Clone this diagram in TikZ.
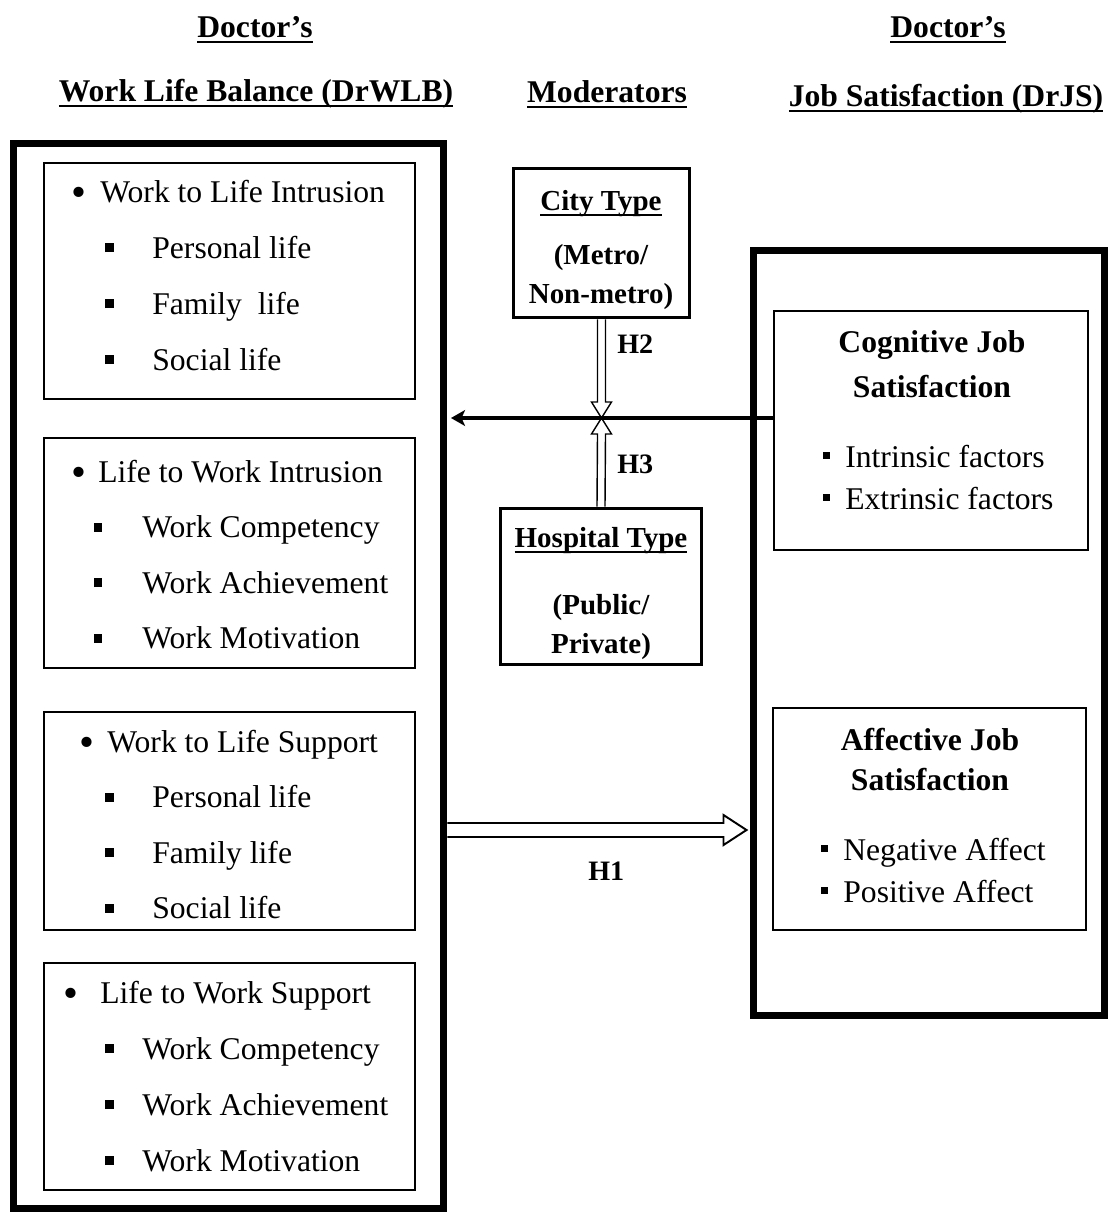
\documentclass[tikz,border=0pt]{standalone}
\usepackage{fontspec}
\setmainfont{Liberation Serif}
\usepackage{tikz}
\usetikzlibrary{arrows.meta,calc}

\newcommand{\bigsq}{\rule[3.4pt]{5pt}{5pt}}
\newcommand{\smallsq}{\rule[4.6pt]{4.2pt}{4.2pt}}
\newcommand{\bigdot}{\raisebox{-2.4pt}{\scalebox{1.35}{\textbullet}}}
\newcommand{\thickul}[1]{\setbox0=\hbox{#1}\rlap{\vrule height -2.4pt depth 3.6pt width \wd0}\box0}

\begin{document}
\begin{tikzpicture}[x=0.02cm, y=-0.02cm,
		every node/.style={inner sep=0pt},
		txt/.style={anchor=base west, font=\fontsize{18}{21}\selectfont},
		ttl/.style={anchor=base, font=\bfseries\fontsize{18}{21}\selectfont},
		modtxt/.style={anchor=base, font=\bfseries\fontsize{16.5}{19}\selectfont},
		hlab/.style={anchor=base west, font=\bfseries\fontsize{16}{19}\selectfont},
		bigbox/.style={draw, line width=4pt},
		subbox/.style={draw, line width=1.1pt},
		modbox/.style={draw, line width=1.7pt},
		effect/.style={line width=2pt, -{Stealth[length=8pt,width=9pt,inset=2pt]}},
		hollow/.style={draw, fill=white, line width=#1, line join=miter},
		hollow/.default=0.8pt]
	\useasboundingbox (0,0) rectangle (1113,1214);

	% headings
	\node[ttl] (drl) at (255,37) {\thickul{Doctor's}};
	\node[ttl] (wlbhead) at (256,101) {\thickul{Work Life Balance (DrWLB)}};
	\node[ttl] (modhead) at (607,102) {\thickul{Moderators}};
	\node[ttl] (drr) at (948,37) {\thickul{Doctor's}};
	\node[ttl] (jshead) at (946,106) {\thickul{Job Satisfaction (DrJS)}};

	% boxes
	\node[bigbox, minimum width=8.62cm, minimum height=21.32cm] (wlb) at (228.5,676) {};
	\node[subbox, minimum width=7.42cm, minimum height=4.72cm] (wli) at (229.5,281) {};
	\node[subbox, minimum width=7.42cm, minimum height=4.6cm] (lwi) at (229.5,553) {};
	\node[subbox, minimum width=7.42cm, minimum height=4.36cm] (wls) at (229.5,821) {};
	\node[subbox, minimum width=7.42cm, minimum height=4.54cm] (lws) at (229.5,1076.5) {};
	\node[modbox, minimum width=3.54cm, minimum height=3cm] (city) at (601.5,243) {};
	\node[modbox, minimum width=4.04cm, minimum height=3.14cm] (hosp) at (601,586.5) {};
	\node[bigbox, minimum width=7.04cm, minimum height=15.32cm] (drjs) at (929,633) {};
	\node[subbox, minimum width=6.28cm, minimum height=4.78cm] (cjs) at (931,430.5) {};
	\node[subbox, minimum width=6.26cm, minimum height=4.44cm] (ajs) at (929.5,819) {};

	% left lists
	\node[txt] (wli0) at (100,202) {\llap{\bigdot\hspace{8pt}}Work to Life Intrusion};
	\foreach \t [count=\i] in {Personal life, Family\ \ life, Social life}
		\node[txt] (wli\i) at (152,202+56*\i) {\llap{\bigsq\hspace{22pt}}\t};
	\node[txt] (lwi0) at (98,482) {\llap{\bigdot\hspace{6.5pt}}Life to Work Intrusion};
	\foreach \t [count=\i] in {Work Competency, Work Achievement, Work Motivation}
		\node[txt] (lwi\i) at (142,482+55.5*\i) {\llap{\bigsq\hspace{22.7pt}}\t};
	\node[txt] (wls0) at (107,752) {\llap{\bigdot\hspace{7.5pt}}Work to Life Support};
	\foreach \t [count=\i] in {Personal life, Family life, Social life}
		\node[txt] (wls\i) at (152,752+55.5*\i) {\llap{\bigsq\hspace{22pt}}\t};
	\node[txt] (lws0) at (100,1003) {\llap{\bigdot\hspace{12.5pt}}Life to Work Support};
	\foreach \t [count=\i] in {Work Competency, Work Achievement, Work Motivation}
		\node[txt] (lws\i) at (142,1003+56*\i) {\llap{\bigsq\hspace{16pt}}\t};

	% moderators
	\node[modtxt] (city0) at (601,210) {\thickul{City Type}};
	\node[modtxt] (city1) at (601,264) {(Metro/};
	\node[modtxt] (city2) at (601,303) {Non-metro)};
	\node[modtxt] (hosp0) at (601,547) {\thickul{Hospital Type}};
	\node[modtxt] (hosp1) at (601,614) {(Public/};
	\node[modtxt] (hosp2) at (601,653) {Private)};

	% right boxes
	\node[ttl] (cjs0) at (932,352) {Cognitive Job};
	\node[ttl] (cjs1) at (932,397) {Satisfaction};
	\node[txt] (cjs2) at (845,467) {\llap{\smallsq\hspace{8.5pt}}Intrinsic factors};
	\node[txt] (cjs3) at (845,509) {\llap{\smallsq\hspace{8.5pt}}Extrinsic factors};
	\node[ttl] (ajs0) at (930,750) {Affective Job};
	\node[ttl] (ajs1) at (930,790) {Satisfaction};
	\node[txt] (ajs2) at (843,860) {\llap{\smallsq\hspace{8.5pt}}Negative Affect};
	\node[txt] (ajs3) at (843,902) {\llap{\smallsq\hspace{8.5pt}}Positive Affect};

	% connectors
	\coordinate (lvl) at (0,418);
	\coordinate (hub) at (city.south |- lvl);
	\coordinate (h1lvl) at (0,830);
	\coordinate (h1s) at (wlb.east |- h1lvl);
	\coordinate (h1e) at ($(drjs.west |- h1lvl)+(-3,0)$);
	\draw[hollow] ($(city.south)+(-4,0)$) -- ($(hub)+(-4,-16)$) -- ($(hub)+(-10,-16)$) -- (hub)
		-- ($(hub)+(10,-16)$) -- ($(hub)+(4,-16)$) -- ($(city.south)+(4,0)$);
	\draw[hollow] ($(hosp.north)+(-4,0)$) -- ($(hub)+(-4,16)$) -- ($(hub)+(-10,16)$) -- (hub)
		-- ($(hub)+(10,16)$) -- ($(hub)+(4,16)$) -- ($(hosp.north)+(4,0)$);
	\draw[effect] (cjs.west |- hub) -- ($(wlb.east |- hub)+(3.5,0)$);
	\draw[hollow=1.1pt] ($(h1s)+(0,-7)$) -- ($(h1e)+(-23,-7)$) -- ($(h1e)+(-23,-15)$) -- (h1e)
		-- ($(h1e)+(-23,15)$) -- ($(h1e)+(-23,7)$) -- ($(h1s)+(0,7)$);
	\node[hlab] (h2) at (617,353) {H2};
	\node[hlab] (h3) at (617,473) {H3};
	\node[hlab] (h1) at (588,880) {H1};
\end{tikzpicture}
\end{document}
